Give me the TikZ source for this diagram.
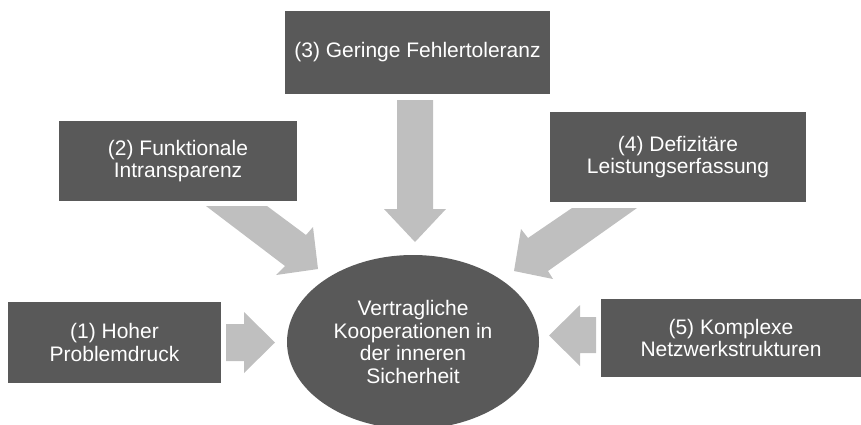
\documentclass[tikz,border=0pt]{standalone}
\usepackage{fontspec}
\setmainfont{Liberation Sans}
\usetikzlibrary{shapes.geometric}
\definecolor{boxgray}{HTML}{595959}
\definecolor{arrowgray}{HTML}{BFBFBF}
\tikzset{
  box/.style={fill=boxgray, text=white, align=center, inner sep=0pt,
    font=\fontsize{21}{22.5}\selectfont},
  blockarrow/.style={fill=arrowgray},
}
\begin{document}
\begin{tikzpicture}[x=1pt,y=-1pt]
\useasboundingbox (0,0) rectangle (861,424);
\begin{scope}
\clip (0,0) rectangle (861,424);
% boxes
\node[box, minimum width=213pt, minimum height=81pt] (b1) at (114.5,342.5) {(1) Hoher\\Problemdruck};
\node[box, minimum width=238pt, minimum height=80pt] (b2) at (178,161) {(2) Funktionale\\Intransparenz};
\node[box, minimum width=265pt, minimum height=83pt] (b3) at (417.5,52.5) {(3) Geringe Fehlertoleranz};
\node[box, minimum width=256pt, minimum height=90pt] (b4) at (678,157) {(4) Defizitäre\\Leistungserfassung};
\node[box, minimum width=260pt, minimum height=78pt] (b5) at (731,338) {(5) Komplexe\\Netzwerkstrukturen};
\node[box, ellipse, minimum width=252pt, minimum height=174pt] (c) at (413,342) {Vertragliche\\Kooperationen in\\der inneren\\Sicherheit};
% block arrows
\fill[blockarrow] (226,324) -- (244,324) -- (244,312) -- (275,342.5) -- (244,373) -- (244,361) -- (226,361) -- cycle;
\fill[blockarrow] (206,206) -- (267,206) -- (306,235) -- (313,227) -- (318,269) -- (276,275) -- (285,266) -- cycle;
\fill[blockarrow] (397,100) -- (433,100) -- (433,209) -- (446,209) -- (415,242) -- (384,209) -- (397,209) -- cycle;
\fill[blockarrow] (572,208) -- (637,208) -- (548,271) -- (553,279) -- (514,271) -- (521,229) -- (528,238) -- cycle;
\fill[blockarrow] (596,317) -- (580,317) -- (580,305) -- (549,335.5) -- (580,366) -- (580,353) -- (596,353) -- cycle;
\end{scope}
\end{tikzpicture}
\end{document}
